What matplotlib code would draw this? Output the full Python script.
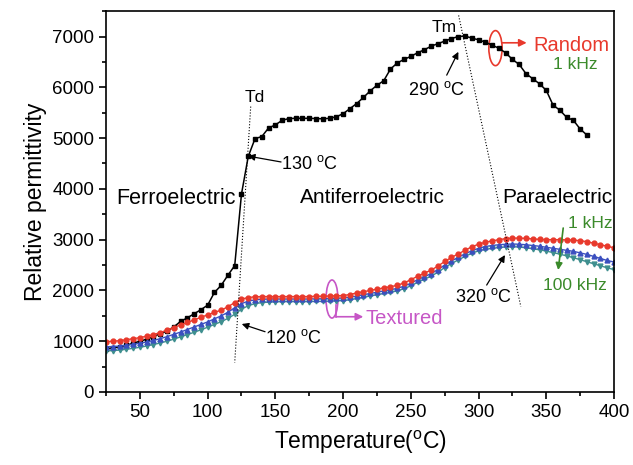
import numpy as np
import matplotlib.pyplot as plt
from matplotlib.patches import Ellipse
from matplotlib.ticker import MultipleLocator

plt.rcParams['font.family'] = ['Liberation Sans', 'DejaVu Sans']
plt.rcParams['mathtext.fontset'] = 'custom'
plt.rcParams['mathtext.rm'] = 'Liberation Sans'

# Random ceramic, 1 kHz
temp_random = list(range(25, 381, 5))
eps_random = [850, 870, 890, 920, 960, 1000, 1040, 1090, 1150, 1200,
              1280, 1390, 1460, 1540, 1620, 1710, 1960, 2100, 2300, 2490,
              3900, 4640, 4990, 5030, 5200, 5260, 5350, 5385, 5390, 5390,
              5390, 5385, 5380, 5390, 5420, 5480, 5580, 5680, 5800, 5930,
              6040, 6130, 6360, 6480, 6550, 6610, 6680, 6740, 6810, 6860,
              6910, 6960, 7000, 7010, 6970, 6935, 6890, 6830, 6770, 6680,
              6550, 6450, 6270, 6170, 6070, 5940, 5650, 5550, 5410, 5350,
              5180, 5060]

# Textured ceramic, 1 kHz .. 100 kHz
temp_tex = list(range(25, 401, 5))
eps_tex_1k = [990, 1000, 1010, 1030, 1050, 1070, 1100, 1130, 1170, 1220,
              1270, 1320, 1370, 1420, 1470, 1520, 1570, 1610, 1680, 1760,
              1830, 1860, 1875, 1880, 1880, 1880, 1880, 1880, 1880, 1880,
              1880, 1885, 1885, 1890, 1895, 1900, 1920, 1950, 1975, 2000,
              2025, 2050, 2075, 2100, 2150, 2210, 2280, 2340, 2400, 2480,
              2570, 2650, 2720, 2790, 2860, 2910, 2950, 2975, 3000, 3020,
              3030, 3030, 3025, 3015, 3005, 3000, 3000, 3000, 2995, 2990,
              2980, 2960, 2930, 2900, 2870, 2840]
eps_tex_10k = [890, 895, 905, 920, 940, 960, 985, 1015, 1050, 1090,
               1135, 1180, 1230, 1280, 1330, 1380, 1440, 1500, 1570, 1660,
               1740, 1790, 1815, 1825, 1830, 1830, 1830, 1830, 1830, 1830,
               1830, 1835, 1835, 1840, 1845, 1850, 1865, 1890, 1915, 1940,
               1965, 1990, 2015, 2040, 2085, 2140, 2210, 2270, 2330, 2410,
               2500, 2580, 2650, 2720, 2780, 2830, 2865, 2885, 2900, 2910,
               2915, 2910, 2900, 2885, 2870, 2850, 2830, 2810, 2790, 2770,
               2740, 2710, 2670, 2630, 2590, 2560]
eps_tex_100k = [810, 815, 825, 840, 860, 880, 905, 935, 965, 1000,
                1040, 1085, 1130, 1175, 1225, 1275, 1330, 1385, 1450, 1530,
                1630, 1700, 1740, 1760, 1770, 1775, 1780, 1780, 1780, 1780,
                1780, 1785, 1785, 1790, 1795, 1800, 1815, 1840, 1865, 1890,
                1915, 1940, 1965, 1990, 2035, 2090, 2160, 2220, 2280, 2360,
                2450, 2530, 2600, 2670, 2730, 2780, 2810, 2830, 2845, 2855,
                2860, 2855, 2840, 2820, 2800, 2775, 2745, 2715, 2680, 2645,
                2605, 2565, 2525, 2485, 2445, 2410]

fig = plt.figure(figsize=(6.33, 4.65), dpi=100)
ax = fig.add_axes([0.1675, 0.157, 0.8025, 0.819])

ax.plot(temp_random, eps_random, '-s', color='black', ms=3.3, lw=1.1)
ax.plot(temp_tex, eps_tex_100k, '-v', color='#3f8f8f', ms=3.5, lw=1.0)
ax.plot(temp_tex, eps_tex_10k, '-^', color='#3b4fbf', ms=3.5, lw=1.0)
ax.plot(temp_tex, eps_tex_1k, '-o', color='#e8392c', ms=3.5, lw=1.0)

ax.set_xlim(25, 400)
ax.set_ylim(0, 7500)
ax.xaxis.set_major_locator(MultipleLocator(50))
ax.xaxis.set_minor_locator(MultipleLocator(25))
ax.yaxis.set_major_locator(MultipleLocator(1000))
ax.yaxis.set_minor_locator(MultipleLocator(500))
ax.tick_params(which='both', direction='out', top=False, right=False,
               labelsize=13.5, width=1.2)
ax.tick_params(which='major', length=5)
ax.tick_params(which='minor', length=3)
for s in ax.spines.values():
    s.set_linewidth(1.2)

ax.set_xlabel('Temperature($\\mathregular{^oC}$)', fontsize=16.5, labelpad=6)
ax.set_ylabel('Relative permittivity', fontsize=16.5)

# dotted transition lines
ax.plot([131.8, 120], [5621, 578], ':', color='black', lw=0.8)
ax.plot([285.3, 331.2], [7416, 1683], ':', color='black', lw=0.8)

# phase region labels
ax.text(77, 3819, 'Ferroelectric', fontsize=15.5, ha='center', va='center')
ax.text(222, 3839, 'Antiferroelectric', fontsize=15, ha='center', va='center')
ax.text(358, 3839, 'Paraelectric', fontsize=15, ha='center', va='center')
ax.text(135, 5807, 'Td', fontsize=12.5, ha='center', va='center')
ax.text(274.5, 7185, 'Tm', fontsize=12.5, ha='center', va='center')

deg = ' $\\mathregular{^oC}$'
arrow = dict(arrowstyle='-|>', color='black', lw=0.9, mutation_scale=10,
             shrinkA=0, shrinkB=0)
ax.text(175, 4488, '130' + deg, fontsize=13, ha='center', va='center')
ax.annotate('', xy=(129.8, 4646), xytext=(154.2, 4530), arrowprops=arrow)
ax.text(268.6, 5945, '290' + deg, fontsize=13, ha='center', va='center')
ax.annotate('', xy=(285.1, 6699), xytext=(276.5, 6240), arrowprops=arrow)
ax.text(163.4, 1063, '120' + deg, fontsize=13, ha='center', va='center')
ax.annotate('', xy=(125.2, 1339), xytext=(142.4, 1187), arrowprops=arrow)
ax.text(303.7, 1876, '320' + deg, fontsize=13, ha='center', va='center')
ax.annotate('', xy=(319.5, 2697), xytext=(306, 2106), arrowprops=arrow)

# Random marker
red = '#e8392c'
green = '#3a8a2a'
mag = '#c656c6'
ax.add_patch(Ellipse((312.5, 6772), 9.8, 690, fill=False, ec=red, lw=1.2))
ax.annotate('', xy=(335.5, 6877), xytext=(317.4, 6877),
            arrowprops=dict(arrowstyle='-|>', color=red, lw=1.2,
                            mutation_scale=11, shrinkA=0, shrinkB=0))
ax.text(340.2, 6831, 'Random', color=red, fontsize=14.5, va='center')
ax.text(371.2, 6457, '1 kHz', color=green, fontsize=12.5, ha='center',
        va='center')

# Textured marker
ax.add_patch(Ellipse((191.8, 1831), 8.8, 750, fill=False, ec=mag, lw=1.2))
ax.plot([194.8, 194.8], [1713, 1482], color=mag, lw=1.2)
ax.annotate('', xy=(214.9, 1482), xytext=(194.8, 1482),
            arrowprops=dict(arrowstyle='-|>', color=mag, lw=1.2,
                            mutation_scale=11, shrinkA=0, shrinkB=0))
ax.text(216.2, 1457, 'Textured', color=mag, fontsize=14.5, va='center')

# frequency arrow
ax.text(382.6, 3327, '1 kHz', color=green, fontsize=12.5, ha='center',
        va='center')
ax.text(371.5, 2106, '100 kHz', color=green, fontsize=12.5, ha='center',
        va='center')
ax.annotate('', xy=(358.8, 2402), xytext=(362.5, 3229),
            arrowprops=dict(arrowstyle='-|>', color=green, lw=1.2,
                            mutation_scale=10, shrinkA=0, shrinkB=0))

fig.savefig('out.png', dpi=100)
